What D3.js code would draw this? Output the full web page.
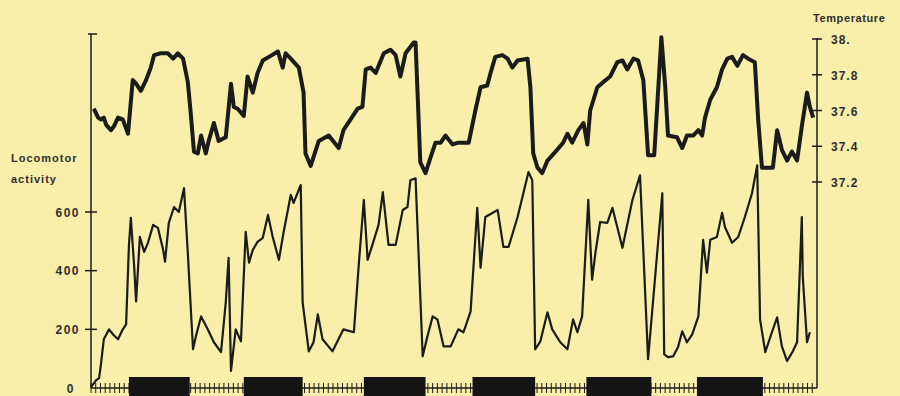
<!DOCTYPE html>
<html><head><meta charset="utf-8">
<script src="https://cdn.jsdelivr.net/npm/d3@7/dist/d3.min.js"></script>
<style>
html,body{margin:0;padding:0;background:#f9efaa;}
svg{display:block;}
text{font-family:"Liberation Sans",Arial,sans-serif;font-weight:bold;fill:#2e2e2e;}
</style></head>
<body><svg id="c" width="900" height="396"></svg>
<script>
// time in hours since start of record
const tempHours = [0.6,1.5,2.1,2.7,3.2,4.2,4.8,5.7,6.7,7.8,8.8,9.5,10.5,11.6,12.6,13.3,14.7,16.2,17.3,18.3,19.4,20.4,21.0,21.7,22.5,23.2,24.2,24.8,25.9,26.9,28.4,29.5,30.1,30.9,32.2,33.0,34.1,35.1,36.2,37.5,39.4,40.4,41.0,42.1,43.8,44.8,45.2,46.3,48.0,50.1,52.2,53.2,54.7,56.2,57.2,57.9,58.9,60.0,61.7,63.1,64.2,65.2,66.3,68.0,68.4,69.4,70.5,71.6,72.6,73.7,74.7,76.2,77.4,79.6,81.0,82.1,83.5,84.2,85.2,86.7,87.8,88.8,89.9,92.0,92.6,93.2,94.1,95.1,96.2,97.9,99.5,100.4,101.4,102.7,103.8,104.6,105.2,106.7,108.0,109.4,110.9,112.0,113.0,114.3,115.3,116.4,117.4,118.7,120.2,121.0,121.6,123.5,124.6,125.6,126.9,128.0,128.8,129.4,130.5,131.9,133.0,134.1,135.1,136.2,137.4,138.5,139.9,140.6,141.4,142.7,143.7,144.6,145.6,146.7,147.7,148.8,149.8,150.9,151.5,152.2];
const tempValues = [37.61,37.56,37.55,37.56,37.52,37.49,37.51,37.56,37.55,37.47,37.77,37.75,37.71,37.77,37.84,37.91,37.92,37.92,37.89,37.92,37.89,37.76,37.59,37.37,37.36,37.46,37.36,37.43,37.53,37.43,37.45,37.75,37.62,37.61,37.57,37.79,37.70,37.81,37.88,37.90,37.93,37.84,37.92,37.89,37.84,37.70,37.36,37.29,37.43,37.46,37.39,37.49,37.55,37.61,37.62,37.83,37.84,37.81,37.92,37.94,37.91,37.79,37.92,37.98,37.98,37.31,37.25,37.34,37.42,37.42,37.46,37.41,37.42,37.42,37.60,37.73,37.74,37.81,37.90,37.91,37.89,37.84,37.88,37.89,37.73,37.36,37.28,37.25,37.32,37.37,37.42,37.47,37.42,37.49,37.53,37.41,37.60,37.73,37.76,37.79,37.87,37.88,37.83,37.89,37.88,37.77,37.35,37.35,38.01,37.74,37.46,37.45,37.39,37.46,37.46,37.49,37.46,37.56,37.66,37.73,37.83,37.89,37.90,37.85,37.91,37.89,37.87,37.55,37.28,37.28,37.28,37.49,37.38,37.32,37.37,37.32,37.51,37.70,37.62,37.56];

const actHours = [0,1.1,1.7,2.1,2.7,3.8,4.8,5.7,6.7,7.4,8.0,8.4,9.1,9.5,10.3,11.2,12.0,13.1,14.1,15.2,15.6,16.4,17.5,18.5,19.6,20.4,21.5,22.1,23.2,24.6,25.9,27.4,28.4,29.0,29.5,30.5,31.6,32.6,33.3,34.1,35.1,36.2,37.3,38.3,39.6,40.6,42.1,42.7,44.2,44.6,45.9,46.9,47.8,48.8,50.9,53.2,55.4,56.4,57.5,58.3,59.3,60.6,61.5,62.7,64.2,65.7,66.7,67.3,68.4,69.9,70.9,72.0,73.0,74.3,75.8,77.4,78.5,80.0,81.4,82.1,83.1,85.7,86.9,88.0,89.9,92.2,93.0,93.6,94.7,96.2,97.2,98.9,100.4,101.6,102.5,103.5,104.8,105.6,106.3,107.3,108.8,109.9,112.0,114.1,115.7,117.4,120.4,120.8,121.6,122.7,123.7,124.6,125.6,126.7,128.0,129.0,129.8,130.5,131.9,133.0,133.6,135.1,136.4,137.8,139.3,140.4,141.0,142.1,143.5,144.6,145.6,146.7,147.9,148.8,149.8,150.0,150.9,151.5];
const actValues = [3,27,34,81,166,200,180,166,200,217,488,580,414,295,515,464,495,556,546,471,431,563,617,600,681,461,132,176,244,200,156,122,292,444,58,200,159,532,427,471,498,512,590,515,437,532,658,631,692,292,125,156,251,166,125,200,190,414,641,437,488,556,668,488,488,607,617,708,715,108,176,244,234,142,142,200,190,261,614,410,583,607,481,481,583,736,708,132,159,258,200,156,132,234,190,244,641,369,461,566,563,614,478,641,725,98,664,115,105,108,139,193,156,183,244,505,393,505,515,597,549,495,515,583,664,759,234,122,190,241,142,92,125,156,583,380,156,190];

// dark (lights-off) periods, hours
const darkStart = [8.0,32.2,57.5,80.4,104.4,127.7];
const darkEnd   = [20.8,44.6,70.5,93.6,118.1,141.6];

const actTicks = [200,400,600];
const tempTicks = [37.2,37.4,37.6,37.8,38.0];
const tempTickLabels = ["37.2","37.4","37.6","37.8","38."];

const svg = d3.select("#c");
const ink = "#1b1b1b";

const x = d3.scaleLinear().domain([0,153]).range([91,817]);
const yA = d3.scaleLinear().domain([0,600]).range([388,212]);
const yT = d3.scaleLinear().domain([37.2,38]).range([182,39]);

// x baseline with hourly ticks
svg.append("line").attr("x1",x(0)).attr("x2",x(153)).attr("y1",388).attr("y2",388)
  .attr("stroke",ink).attr("stroke-width",1.5);
svg.append("g").selectAll("line").data(d3.range(0,153,1)).join("line")
  .attr("x1",d=>x(d)).attr("x2",d=>x(d)).attr("y1",383).attr("y2",393)
  .attr("stroke",ink).attr("stroke-width",1);

// dark bars
svg.append("g").selectAll("rect").data(darkStart).join("rect")
  .attr("x",(d)=>x(d)).attr("width",(d,i)=>x(darkEnd[i])-x(d))
  .attr("y",377).attr("height",25).attr("fill","#141414");

// left axis
const gL = svg.append("g").attr("transform","translate(91,0)");
gL.append("line").attr("y1",34).attr("y2",388).attr("stroke",ink).attr("stroke-width",1.5);
gL.append("line").attr("x1",-3).attr("x2",6).attr("y1",34).attr("y2",34).attr("stroke",ink).attr("stroke-width",1.5);
gL.selectAll("line.t").data(actTicks).join("line").attr("class","t")
  .attr("x1",-6).attr("x2",6).attr("y1",d=>yA(d)).attr("y2",d=>yA(d))
  .attr("stroke",ink).attr("stroke-width",1.5);
gL.selectAll("text.t").data([0].concat(actTicks)).join("text").attr("class","t")
  .attr("x",d=>d===0?-16:-11).attr("y",d=>yA(d)+4.5).attr("text-anchor","end")
  .attr("font-size",12).attr("letter-spacing",1.5).text(d=>d);
svg.append("text").attr("x",11).attr("y",162).attr("font-size",11).attr("letter-spacing",1).text("Locomotor");
svg.append("text").attr("x",11).attr("y",183).attr("font-size",11).attr("letter-spacing",1).text("activity");

// right axis
const gR = svg.append("g").attr("transform","translate(817,0)");
gR.append("line").attr("y1",38).attr("y2",388).attr("stroke",ink).attr("stroke-width",1.5);
gR.selectAll("line.t").data(tempTicks).join("line").attr("class","t")
  .attr("x1",-5).attr("x2",5).attr("y1",d=>yT(d)).attr("y2",d=>yT(d))
  .attr("stroke",ink).attr("stroke-width",1.5);
gR.selectAll("text.t").data(tempTicks).join("text").attr("class","t")
  .attr("x",14).attr("y",d=>yT(d)+5).attr("font-size",12).attr("letter-spacing",1)
  .text((d,i)=>tempTickLabels[i]);
svg.append("text").attr("x",813).attr("y",22).attr("font-size",11).attr("letter-spacing",0.6).text("Temperature");

// lines
const lineT = d3.line().x((d,i)=>x(tempHours[i])).y(d=>yT(d)).curve(d3.curveLinear);
svg.append("path").datum(tempValues).attr("d",lineT).attr("fill","none")
  .attr("stroke",ink).attr("stroke-width",4).attr("stroke-linejoin","round");
const lineA = d3.line().x((d,i)=>x(actHours[i])).y(d=>yA(d));
svg.append("path").datum(actValues).attr("d",lineA).attr("fill","none")
  .attr("stroke",ink).attr("stroke-width",2.2).attr("stroke-linejoin","round");
</script></body></html>
